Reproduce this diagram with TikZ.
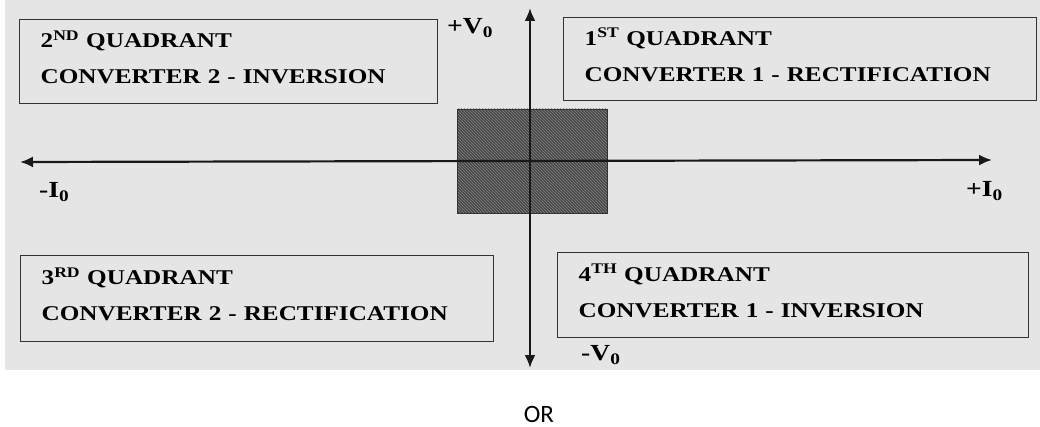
\documentclass[tikz,border=0pt]{standalone}
\usepackage{fontspec}
\setmainfont{Liberation Serif}
\newfontfamily\scanfont[FakeStretch=1.2]{Liberation Serif}
\newfontfamily\orfont{Carlito}
\usetikzlibrary{arrows.meta,patterns}
\definecolor{scan}{gray}{0.9}
\newcommand{\lastdp}{\rule[-6pt]{0pt}{0pt}}

\begin{document}
\begin{tikzpicture}[x=1pt, y=-1pt,
  >={Latex[length=13pt, width=11pt]},
  quad/.style={draw=black!80, line width=1.3pt, anchor=north west, align=left,
    inner xsep=21pt, inner ysep=0pt, font=\scanfont\fontsize{21}{36}\selectfont\bfseries},
  core/.style={draw=black!80, line width=0.8pt, minimum width=150pt, minimum height=104pt,
    preaction={fill=black!72}, pattern=north west lines, pattern color=black!48, inner sep=0pt},
  axis/.style={<->, line width=2.2pt, black!90},
  axlbl/.style={anchor=west, inner sep=0pt, font=\scanfont\fontsize{23}{26}\selectfont\bfseries},
]
\useasboundingbox (0,0) rectangle (1040,427);
% ---- scanned panel ----
\fill[scan] (5,0) rectangle (1040,370);
% ---- quadrant boxes ----
\node[quad, minimum width=418pt, text width=376pt, minimum height=84pt] (q2) at (19,19)
  {2\smash{\textsuperscript{ND}} QUADRANT\\CONVERTER 2 - INVERSION\lastdp};
\node[quad, minimum width=473pt, text width=431pt, minimum height=83pt] (q1) at (563,17)
  {1\smash{\textsuperscript{ST}} QUADRANT\\CONVERTER 1 - RECTIFICATION\lastdp};
\node[quad, minimum width=473pt, text width=431pt, minimum height=86pt] (q3) at (20,255)
  {3\smash{\textsuperscript{RD}} QUADRANT\\CONVERTER 2 - RECTIFICATION\lastdp};
\node[quad, minimum width=471pt, text width=429pt, minimum height=85pt] (q4) at (557,252)
  {4\smash{\textsuperscript{TH}} QUADRANT\\CONVERTER 1 - INVERSION\lastdp};
% ---- shaded origin block ----
\node[core] (origin) at (532,161) {};
% ---- axes ----
\coordinate (vtop) at (530,8);
\coordinate (vbot) at (530,368);
\coordinate (hleft) at (20,162);
\coordinate (hright) at (992,160);
\draw[axis] (vbot) -- (vtop);
\draw[axis] (hleft) -- (hright);
% ---- axis labels ----
\node[axlbl] (vp) at (447,28) {+V\textsubscript{0}};
\node[axlbl] (in) at (39,192) {-I\textsubscript{0}};
\node[axlbl] (ip) at (966,191) {+I\textsubscript{0}};
\node[axlbl] (vn) at (581,355) {-V\textsubscript{0}};
% ---- below the panel ----
\node[font=\orfont\fontsize{25}{28}\selectfont, inner sep=0pt] (or) at (539,414) {OR};
\end{tikzpicture}
\end{document}
